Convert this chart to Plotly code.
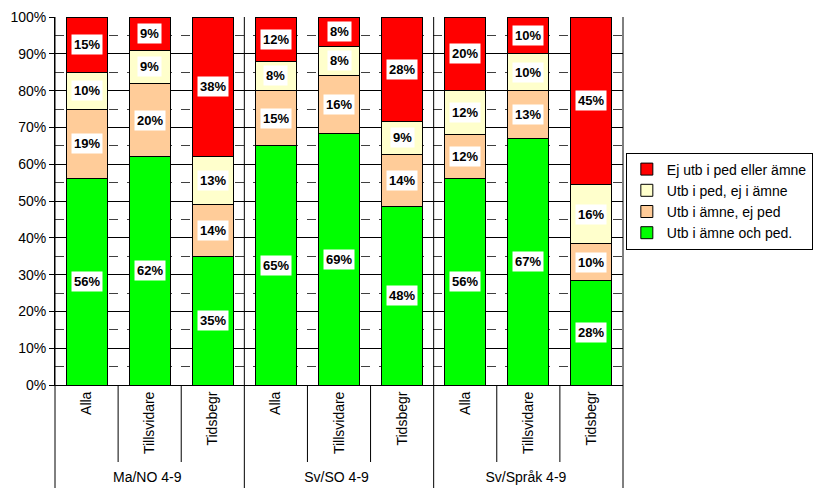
import plotly.graph_objects as go

# ---- data ----
groups = ["Ma/NO 4-9"] * 3 + ["Sv/SO 4-9"] * 3 + ["Sv/Språk 4-9"] * 3
subcats = ["Alla", "Tillsvidare", "Tidsbegr"] * 3

series_names = ["Utb i ämne och ped.", "Utb i ämne, ej ped",
                "Utb i ped, ej i ämne", "Ej utb i ped eller ämne"]
amne_och_ped = [56, 62, 35, 65, 69, 48, 56, 67, 28]
amne_ej_ped = [19, 20, 14, 15, 16, 14, 12, 13, 10]
ped_ej_amne = [10, 9, 13, 8, 8, 9, 12, 10, 16]
ej_utb = [15, 9, 38, 12, 8, 28, 20, 10, 45]
series_values = [amne_och_ped, amne_ej_ped, ped_ej_amne, ej_utb]
colors = ["#00FF00", "#FFCC99", "#FFFFCC", "#FF0000"]

y_tickvals = list(range(0, 101, 10))
y_ticktext = [f"{v}%" for v in y_tickvals]

FONT = "Liberation Sans, Arial, sans-serif"
n = len(subcats)

fig = go.Figure()
for name, vals, col in zip(series_names, series_values, colors):
    fig.add_trace(go.Bar(
        x=[groups, subcats], y=vals, name=name,
        marker=dict(color=col, line=dict(color="#000000", width=1)),
        hoverinfo="skip",
    ))

# labels in white boxes, centred in each normalised segment
annotations = []
for i in range(n):
    total = sum(s[i] for s in series_values)
    cum = 0.0
    for s in series_values:
        v = s[i]
        center = (cum + v / 2) / total * 100
        cum += v
        annotations.append(dict(
            x=(i + 0.5) / n, xref="paper", y=center, yref="y",
            xanchor="center", yanchor="middle",
            text=f"<b>{v}%</b>", showarrow=False,
            font=dict(family=FONT, size=13, color="#000000"),
            bgcolor="#FFFFFF", borderpad=2,
        ))

# separators (category boundaries)
shapes = []
bottom = -103 / 368
for k in range(n + 1):
    if k % 3 == 0:
        shapes.append(dict(type="line", xref="paper", yref="paper",
                           x0=k / n, x1=k / n, y0=bottom, y1=1,
                           line=dict(color="#000000", width=1)))
    else:
        shapes.append(dict(type="line", xref="paper", yref="paper",
                           x0=k / n, x1=k / n, y0=0, y1=-77 / 368,
                           line=dict(color="#000000", width=1)))

fig.update_layout(
    barmode="stack", barnorm="percent", bargap=0.35,
    width=813, height=488,
    margin=dict(l=55, r=190, t=17, b=103, autoexpand=False),
    paper_bgcolor="#FFFFFF", plot_bgcolor="#FFFFFF",
    font=dict(family=FONT, size=14, color="#000000"),
    showlegend=True,
    legend=dict(
        x=1.005, xanchor="left", y=0.5, yanchor="middle",
        traceorder="reversed",
        bordercolor="#000000", borderwidth=1, bgcolor="#FFFFFF",
        font=dict(family=FONT, size=14, color="#000000"),
        itemwidth=30,
    ),
    annotations=annotations,
    shapes=shapes,
)

fig.update_xaxes(
    type="multicategory", range=[-0.5, n - 0.5],
    showline=True, linecolor="#000000", linewidth=1,
    showgrid=False, showdividers=False,
    ticks="outside", ticklen=8, tickcolor="rgba(0,0,0,0)",
    tickangle=-90,
    tickfont=dict(family=FONT, size=14, color="#000000"),
)
fig.update_yaxes(
    range=[0, 100], tickvals=y_tickvals, ticktext=y_ticktext,
    showline=True, linecolor="#000000", linewidth=1,
    ticks="outside", ticklen=5, tickcolor="#000000",
    showgrid=True, gridcolor="#000000", gridwidth=1,
    zeroline=False,
    minor=dict(dtick=5, showgrid=True, gridcolor="#404040",
               griddash="dash", gridwidth=1, ticks=""),
    tickfont=dict(family=FONT, size=14, color="#000000"),
)

fig.write_html("out.html")
